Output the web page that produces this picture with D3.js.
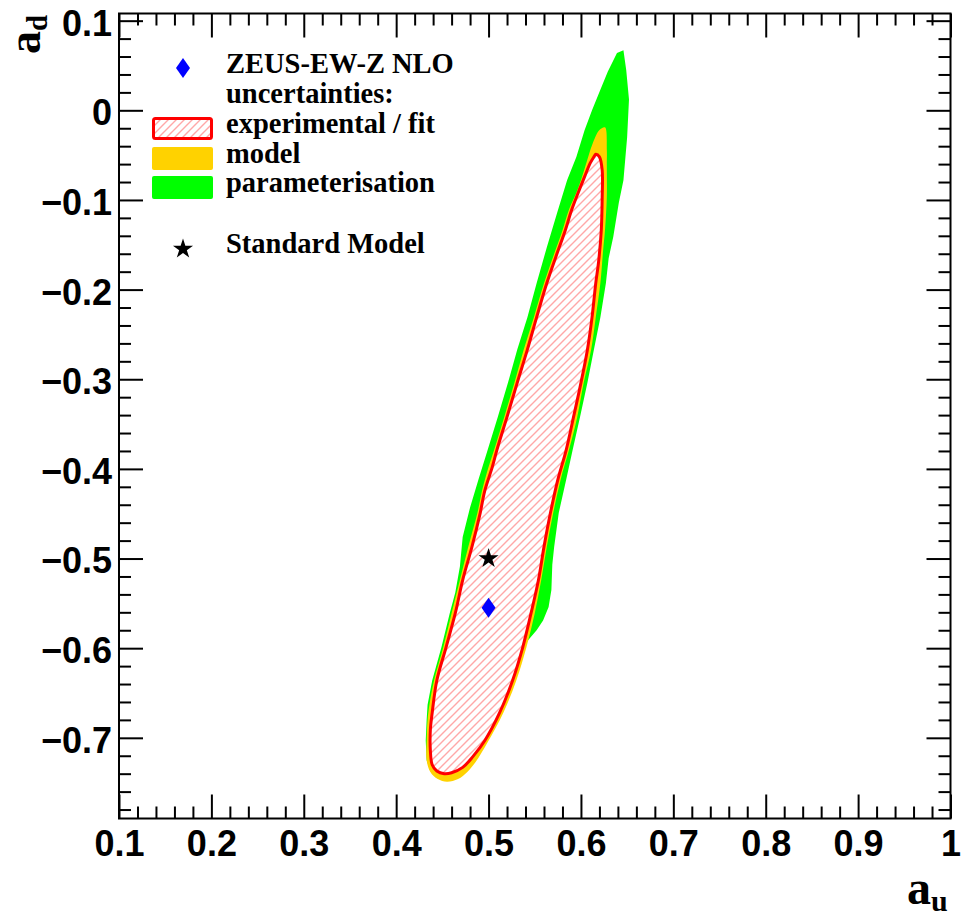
<!DOCTYPE html>
<html>
<head>
<meta charset="utf-8">
<script src="https://cdn.jsdelivr.net/npm/d3@7"></script>
<style>
  body { margin: 0; background: #fff; }
  svg { display: block; }
</style>
</head>
<body>
<svg id="chart" width="961" height="918"></svg>
<script>
// Contours in the (a_u, a_d) plane: experimental/fit, model and parameterisation uncertainties
const expContour = [
  [0.616,-0.049],[0.620,-0.052],[0.623,-0.067],[0.623,-0.097],[0.622,-0.134],[0.619,-0.170],
  [0.616,-0.193],[0.612,-0.231],[0.607,-0.267],[0.600,-0.304],[0.592,-0.342],[0.584,-0.379],
  [0.575,-0.412],[0.567,-0.449],[0.560,-0.487],[0.554,-0.524],[0.546,-0.561],[0.537,-0.599],
  [0.526,-0.636],[0.512,-0.672],[0.496,-0.703],[0.483,-0.721],[0.472,-0.733],[0.460,-0.739],
  [0.452,-0.740],[0.444,-0.737],[0.439,-0.730],[0.437,-0.714],[0.437,-0.691],[0.439,-0.672],
  [0.444,-0.636],[0.454,-0.599],[0.464,-0.561],[0.472,-0.524],[0.482,-0.487],[0.491,-0.449],
  [0.496,-0.424],[0.504,-0.398],[0.509,-0.379],[0.520,-0.342],[0.531,-0.304],[0.542,-0.267],
  [0.552,-0.231],[0.563,-0.193],[0.573,-0.163],[0.583,-0.134],[0.590,-0.111],[0.597,-0.092],
  [0.604,-0.074],[0.610,-0.059],[0.614,-0.052]
];

const modelContour = [
  [0.620,-0.022],[0.626,-0.019],[0.628,-0.044],[0.628,-0.061],[0.628,-0.097],[0.626,-0.134],
  [0.624,-0.156],[0.621,-0.193],[0.616,-0.231],[0.611,-0.267],[0.603,-0.304],[0.596,-0.342],
  [0.587,-0.379],[0.578,-0.412],[0.570,-0.449],[0.563,-0.487],[0.557,-0.524],[0.550,-0.561],
  [0.541,-0.599],[0.530,-0.636],[0.516,-0.672],[0.499,-0.705],[0.486,-0.727],[0.477,-0.738],
  [0.467,-0.746],[0.455,-0.749],[0.445,-0.746],[0.437,-0.738],[0.433,-0.725],[0.433,-0.703],
  [0.434,-0.680],[0.436,-0.663],[0.441,-0.636],[0.451,-0.599],[0.460,-0.561],[0.469,-0.524],
  [0.478,-0.487],[0.488,-0.449],[0.493,-0.424],[0.500,-0.398],[0.506,-0.379],[0.517,-0.342],
  [0.528,-0.304],[0.538,-0.267],[0.549,-0.231],[0.560,-0.193],[0.570,-0.163],[0.580,-0.134],
  [0.587,-0.111],[0.595,-0.092],[0.600,-0.078],[0.607,-0.055],[0.612,-0.039]
];

const paramContour = [
  [0.639,0.064],[0.646,0.067],[0.649,0.045],[0.652,0.012],[0.650,-0.030],[0.646,-0.078],
  [0.641,-0.103],[0.635,-0.141],[0.630,-0.165],[0.627,-0.193],[0.621,-0.231],[0.614,-0.267],
  [0.607,-0.304],[0.599,-0.342],[0.591,-0.379],[0.584,-0.412],[0.576,-0.449],[0.571,-0.487],
  [0.569,-0.507],[0.568,-0.535],[0.565,-0.554],[0.559,-0.569],[0.552,-0.580],[0.543,-0.591],
  [0.536,-0.602],[0.530,-0.621],[0.525,-0.638],[0.515,-0.672],[0.498,-0.705],[0.485,-0.727],
  [0.476,-0.737],[0.466,-0.745],[0.455,-0.748],[0.445,-0.745],[0.437,-0.737],[0.433,-0.725],
  [0.432,-0.703],[0.433,-0.680],[0.434,-0.663],[0.439,-0.636],[0.449,-0.599],[0.458,-0.561],
  [0.464,-0.538],[0.469,-0.509],[0.472,-0.476],[0.480,-0.443],[0.489,-0.412],[0.499,-0.379],
  [0.510,-0.342],[0.521,-0.304],[0.531,-0.267],[0.542,-0.231],[0.552,-0.193],[0.563,-0.153],
  [0.574,-0.115],[0.585,-0.078],[0.595,-0.052],[0.604,-0.022],[0.612,0.000],[0.621,0.023],
  [0.629,0.043]
];

// Fitted central value and Standard Model expectation
const fitPoint = [0.500, -0.555];
const smPoint = [0.500, -0.500];

// Axis ticks and labels
const xMajor = [0.1, 0.2, 0.3, 0.4, 0.5, 0.6, 0.7, 0.8, 0.9, 1.0];
const xLabels = ["0.1", "0.2", "0.3", "0.4", "0.5", "0.6", "0.7", "0.8", "0.9", "1"];
const yMajor = [0.1, 0.0, -0.1, -0.2, -0.3, -0.4, -0.5, -0.6, -0.7];
const yLabels = ["0.1", "0", "\u22120.1", "\u22120.2", "\u22120.3", "\u22120.4", "\u22120.5", "\u22120.6", "\u22120.7"];

// Legend rows
const legendHeader = ["ZEUS-EW-Z NLO", "uncertainties:"];
const legendBoxes = ["experimental / fit", "model", "parameterisation"];
const legendSM = "Standard Model";

const colors = { exp: "#ff0000", hatch: "#ffa8a8", model: "#ffd200", param: "#00ff00", fit: "#0000ff", sm: "#000000" };

(function draw() {
  const svg = d3.select("#chart");
  const pLeft = 119, pRight = 950.5, pTop = 13.5, pBottom = 818.5;

  const x = d3.scaleLinear().domain([0.1, 1.0]).range([pLeft, pRight]);
  const y = d3.scaleLinear().domain([-0.79, 0.108]).range([pBottom, pTop]);

  // Diagonal red hatching on white for the experimental/fit region
  const defs = svg.append("defs");
  const pat = defs.append("pattern")
    .attr("id", "hatch")
    .attr("patternUnits", "userSpaceOnUse")
    .attr("width", 8).attr("height", 8);
  pat.append("rect").attr("width", 8).attr("height", 8).attr("fill", "#fff");
  pat.append("path")
    .attr("d", "M-2,2 L2,-2 M0,8 L8,0 M6,10 L10,6")
    .attr("fill", "none")
    .attr("stroke", colors.hatch).attr("stroke-width", 1.4);

  const plot = svg.append("g");

  const linePoly = d3.line().x(d => x(d[0])).y(d => y(d[1])).curve(d3.curveLinearClosed);
  const smoothPoly = d3.line().x(d => x(d[0])).y(d => y(d[1])).curve(d3.curveCatmullRomClosed.alpha(0.5));

  plot.append("path").attr("d", linePoly(paramContour)).attr("fill", colors.param);
  plot.append("path").attr("d", smoothPoly(modelContour)).attr("fill", colors.model);
  plot.append("path").attr("d", smoothPoly(expContour))
    .attr("fill", "url(#hatch)")
    .attr("stroke", colors.exp).attr("stroke-width", 3).attr("stroke-linejoin", "round");

  // Markers
  const diamondPath = (hw, hh) => `M0,${-hh}L${hw},0L0,${hh}L${-hw},0Z`;
  const starPath = d3.symbol().type(d3.symbolStar).size(125);

  plot.append("path")
    .attr("d", starPath())
    .attr("transform", `translate(${x(smPoint[0])},${y(smPoint[1])})`)
    .attr("fill", colors.sm);
  plot.append("path")
    .attr("d", diamondPath(7, 10))
    .attr("transform", `translate(${x(fitPoint[0])},${y(fitPoint[1])})`)
    .attr("fill", colors.fit);

  // Axes: ticks drawn inward on all four sides
  const xMinor = d3.range(0.1, 1.0001, 0.02).map(v => +v.toFixed(2)).filter(v => !xMajor.some(m => Math.abs(m - v) < 1e-6));
  const yMinor = d3.range(-0.78, 0.1001, 0.02).map(v => +v.toFixed(2)).filter(v => !yMajor.some(m => Math.abs(m - v) < 1e-6));

  const labelFont = "'Liberation Sans', Arial, Helvetica, sans-serif";

  function styleAxis(g) {
    g.select(".domain").remove();
    g.selectAll(".tick line").attr("stroke", "#000").attr("stroke-width", 2);
  }

  svg.append("g").attr("transform", `translate(0,${pBottom})`)
    .call(d3.axisBottom(x).tickValues(xMajor).tickSizeInner(-24).tickSizeOuter(0).tickPadding(12)
      .tickFormat((d, i) => xLabels[i]))
    .call(styleAxis)
    .call(g => g.selectAll("text").attr("font-family", labelFont).attr("font-weight", "bold")
      .attr("font-size", 36).attr("fill", "#000"));
  svg.append("g").attr("transform", `translate(0,${pBottom})`)
    .call(d3.axisBottom(x).tickValues(xMinor).tickSizeInner(-12).tickSizeOuter(0).tickFormat(""))
    .call(styleAxis);
  svg.append("g").attr("transform", `translate(0,${pTop})`)
    .call(d3.axisTop(x).tickValues(xMajor).tickSizeInner(-24).tickSizeOuter(0).tickFormat(""))
    .call(styleAxis);
  svg.append("g").attr("transform", `translate(0,${pTop})`)
    .call(d3.axisTop(x).tickValues(xMinor).tickSizeInner(-12).tickSizeOuter(0).tickFormat(""))
    .call(styleAxis);

  svg.append("g").attr("transform", `translate(${pLeft},0)`)
    .call(d3.axisLeft(y).tickValues(yMajor).tickSizeInner(-24).tickSizeOuter(0).tickPadding(7)
      .tickFormat((d, i) => yLabels[i]))
    .call(styleAxis)
    .call(g => g.selectAll("text").attr("font-family", labelFont).attr("font-weight", "bold")
      .attr("font-size", 36).attr("fill", "#000").attr("dy", "0.4em"));
  svg.append("g").attr("transform", `translate(${pLeft},0)`)
    .call(d3.axisLeft(y).tickValues(yMinor).tickSizeInner(-12).tickSizeOuter(0).tickFormat(""))
    .call(styleAxis);
  svg.append("g").attr("transform", `translate(${pRight},0)`)
    .call(d3.axisRight(y).tickValues(yMajor).tickSizeInner(-24).tickSizeOuter(0).tickFormat(""))
    .call(styleAxis);
  svg.append("g").attr("transform", `translate(${pRight},0)`)
    .call(d3.axisRight(y).tickValues(yMinor).tickSizeInner(-12).tickSizeOuter(0).tickFormat(""))
    .call(styleAxis);

  // Frame
  svg.append("rect")
    .attr("x", pLeft).attr("y", pTop).attr("width", pRight - pLeft).attr("height", pBottom - pTop)
    .attr("fill", "none").attr("stroke", "#000").attr("stroke-width", 2);

  // Axis titles
  const serif = "'Liberation Serif', 'Times New Roman', Times, serif";
  const xt = svg.append("text")
    .attr("x", 907).attr("y", 904)
    .attr("font-family", serif).attr("font-weight", "bold").attr("font-size", 48).attr("fill", "#000");
  xt.append("tspan").text("a");
  xt.append("tspan").attr("font-size", 30).attr("dy", 7).text("u");

  const yt = svg.append("text")
    .attr("transform", "translate(40,54) rotate(-90)")
    .attr("font-family", serif).attr("font-weight", "bold").attr("font-size", 46).attr("fill", "#000");
  yt.append("tspan").text("a");
  yt.append("tspan").attr("font-size", 29).attr("dy", 7).text("d");

  // Legend
  const lg = svg.append("g").attr("font-family", serif).attr("font-weight", "bold").attr("font-size", 28.5).attr("fill", "#000");
  const textX = 226;
  const rowY = [73, 103, 133, 163, 192];

  lg.append("path").attr("d", diamondPath(7, 10)).attr("transform", "translate(183,68)").attr("fill", colors.fit);
  legendHeader.forEach((t, i) => lg.append("text").attr("x", textX).attr("y", rowY[i]).text(t));

  const boxFills = ["url(#hatch)", colors.model, colors.param];
  legendBoxes.forEach((t, i) => {
    const by = rowY[i + 2] - 16;
    const r = lg.append("rect").attr("x", 152).attr("y", by).attr("width", 61).attr("height", 23)
      .attr("rx", 2).attr("fill", boxFills[i]);
    if (i === 0) {
      r.attr("x", 153.5).attr("y", by + 1.5).attr("width", 58).attr("height", 20)
        .attr("stroke", colors.exp).attr("stroke-width", 3);
    }
    lg.append("text").attr("x", textX).attr("y", rowY[i + 2]).text(t);
  });

  lg.append("path").attr("d", starPath()).attr("transform", "translate(183,249)").attr("fill", colors.sm);
  lg.append("text").attr("x", textX).attr("y", 253).text(legendSM);
})();
</script>
</body>
</html>
